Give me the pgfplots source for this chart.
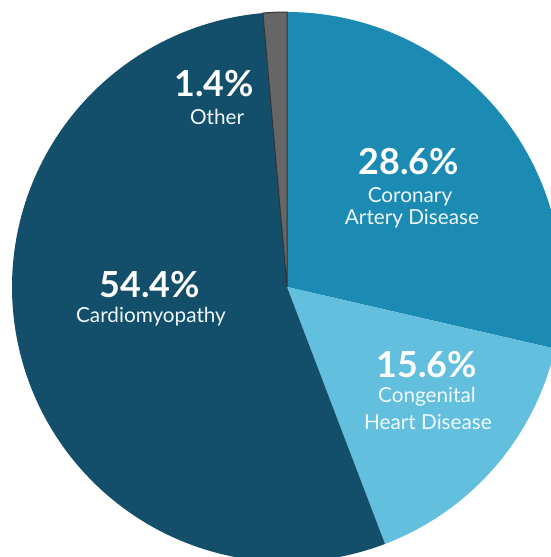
\documentclass[border=0pt]{standalone}
\usepackage{fontspec}
\setmainfont{Lato}
\usepackage{pgfplots}
\pgfplotsset{compat=1.18}

\definecolor{cor}{HTML}{1B8BB4}
\definecolor{con}{HTML}{62BFDD}
\definecolor{car}{HTML}{134F6A}
\definecolor{oth}{HTML}{666666}

% shares in percent, clockwise from the top
\def\vCor{28.6}
\def\vCon{15.6}
\def\vCar{54.4}
\def\vOth{1.4}

\begin{document}
\begin{tikzpicture}
\pgfmathsetmacro\aA{90}
\pgfmathsetmacro\aB{\aA-3.6*\vCor}
\pgfmathsetmacro\aC{\aB-3.6*\vCon}
\pgfmathsetmacro\aD{\aC-3.6*\vCar}
\pgfmathsetmacro\aE{\aD-3.6*\vOth}
\begin{axis}[
    scale only axis,
    width=551bp, height=557bp,
    hide axis,
    clip=true,
    xmin=-1.04364, xmax=0.96,
    ymin=-0.98182, ymax=1.04364,
]
\addplot[fill=cor, draw=none, domain=\aB:\aA, samples=150, variable=\t]
    ({cos(t)},{sin(t)}) -- (0,0) -- cycle;
\addplot[fill=con, draw=none, domain=\aC:\aB, samples=100, variable=\t]
    ({cos(t)},{sin(t)}) -- (0,0) -- cycle;
\addplot[fill=car, draw=none, domain=\aD:\aC, samples=250, variable=\t]
    ({cos(t)},{sin(t)}) -- (0,0) -- cycle;
\addplot[fill=oth, draw=black!80, line width=1pt, domain=\aE:\aD, samples=10, variable=\t]
    ({cos(t)},{sin(t)}) -- (0,0) -- cycle;

\tikzset{pct/.style={anchor=base, text=white, font=\fontsize{36}{38}\selectfont\bfseries},
         lab/.style={anchor=base, text=white!94!cyan, font=\fontsize{20.8}{24}\selectfont}}
\node[pct] at (0.4436,0.4073) {28.6\%};
\node[lab] at (0.4473,0.3055) {Coronary};
\node[lab] at (0.4545,0.2255) {Artery Disease};
\node[pct] at (-0.2655,0.6909) {1.4\%};
\node[lab] at (-0.2545,0.5927) {Other};
\node[pct] at (-0.4982,-0.0364) {54.4\%};
\node[lab] at (-0.4945,-0.1309) {Cardiomyopathy};
\node[pct] at (0.5091,-0.3273) {15.6\%};
\node[lab] at (0.5091,-0.4218) {Congenital};
\node[lab] at (0.5127,-0.5200) {Heart Disease};
\end{axis}
\path (current axis.south west) rectangle (current axis.north east);
\end{tikzpicture}
\end{document}
